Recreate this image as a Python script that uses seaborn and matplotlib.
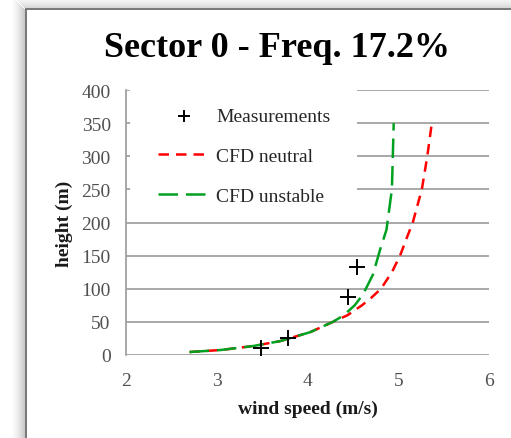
import matplotlib
matplotlib.use("Agg")
import matplotlib.pyplot as plt
from matplotlib.patches import Rectangle
import seaborn as sns
import pandas as pd

# ---- data ----
meas_speed = [3.49, 3.79, 4.45, 4.55]
meas_height = [10, 25, 88, 133]

neutral_height = [4.5, 7.5, 13.5, 21, 34.5, 50, 60, 75, 86, 100, 125, 150, 179, 200, 250, 300, 350]
neutral_speed = [2.70, 3.04, 3.40, 3.70, 4.03, 4.28, 4.44, 4.60, 4.70, 4.81, 4.93, 5.02, 5.10, 5.16, 5.26, 5.32, 5.37]

unstable_height = [4.5, 7.5, 13.5, 21, 34.5, 50, 60, 75, 91, 121, 159, 189, 250, 300, 350]
unstable_speed = [2.70, 3.04, 3.40, 3.70, 4.03, 4.28, 4.40, 4.52, 4.61, 4.72, 4.80, 4.87, 4.93, 4.94, 4.95]

x_ticks = [2, 3, 4, 5, 6]
y_ticks = [0, 50, 100, 150, 200, 250, 300, 350, 400]

title = "Sector 0 - Freq. 17.2%"

sns.set_theme(style="white")
plt.rcParams["font.family"] = ["Liberation Serif", "DejaVu Serif"]

W, H = 511, 439
fig = plt.figure(figsize=(W / 100, H / 100), dpi=100)
fig.patch.set_facecolor("white")

def px_rect(x0, y0, x1, y1, color, alpha=1.0, z=-10):
    fig.add_artist(Rectangle((x0 / W, 1 - y1 / H), (x1 - x0) / W, (y1 - y0) / H,
                             transform=fig.transFigure, facecolor=color, alpha=alpha,
                             lw=0, zorder=z))

# shadow around the chart frame
n = 14
for i in range(n):
    a = 0.34 * (1 - i / n) ** 1.6
    px_rect(25 - i - 1, 10 - i, 25 - i, H, "#606060", a)
    px_rect(25 - i, 10 - i - 1, W, 10 - i, "#606060", a * 0.8)
# frame lines
px_rect(25, 9, 26.5, H, "#7a7a7a", 1.0, z=-5)
px_rect(25, 9, W, 10.5, "#7a7a7a", 1.0, z=-5)

ax_l, ax_r, ax_t, ax_b = 126, 489, 91, 356
ax = fig.add_axes([ax_l / W, 1 - ax_b / H, (ax_r - ax_l) / W, (ax_b - ax_t) / H])
ax.set_facecolor("none")

meas_df = pd.DataFrame({"speed": meas_speed, "height": meas_height})
neu_df = pd.DataFrame({"speed": neutral_speed, "height": neutral_height})
uns_df = pd.DataFrame({"speed": unstable_speed, "height": unstable_height})

sns.scatterplot(data=meas_df, x="speed", y="height", marker="+", s=120,
                color="black", linewidth=1.4, ax=ax, label="Measurements", zorder=5)
sns.lineplot(data=neu_df, x="speed", y="height", sort=False, estimator=None,
             color="#ff0000", linewidth=1.8, linestyle=(0, (4.2, 2.8)),
             ax=ax, label="CFD neutral", zorder=3)
sns.lineplot(data=uns_df, x="speed", y="height", sort=False, estimator=None,
             color="#00a020", linewidth=1.8, linestyle=(0, (7.8, 3.2)),
             ax=ax, label="CFD unstable", zorder=4)

ax.set_xlim(2, 6)
ax.set_ylim(0, 400)
ax.set_xticks(x_ticks)
ax.set_yticks(y_ticks)
ax.set_xticklabels([str(v) for v in x_ticks])
ax.set_yticklabels([str(v) for v in y_ticks])
ax.tick_params(axis="both", length=0, labelsize=14, labelcolor="#505050")
ax.tick_params(axis="y", pad=11)
ax.tick_params(axis="x", pad=12)

ax.set_axisbelow(True)
ax.yaxis.grid(True, color="#9a9a9a", linewidth=1.2)
ax.xaxis.grid(False)
for s in ["top", "right", "bottom"]:
    ax.spines[s].set_visible(False)
ax.spines["left"].set_color("#9a9a9a")
ax.spines["left"].set_linewidth(1.2)

# white legend area covering gridlines
ax.add_patch(Rectangle((0.01, 0.57), 0.626, 0.43, transform=ax.transAxes,
                       facecolor="white", edgecolor="none", zorder=1))

ax.set_xlabel("wind speed (m/s)", fontsize=14, fontweight="bold", color="#1a1a1a", labelpad=8)
ax.set_ylabel("height (m)", fontsize=14, fontweight="bold", color="#1a1a1a", labelpad=6)

leg = ax.legend(loc="upper left", bbox_to_anchor=(0.088, 0.935), frameon=False,
                borderpad=0, borderaxespad=0, handlelength=2.7, handletextpad=0.3,
                labelspacing=1.15, fontsize=14, labelcolor="#262626", markerscale=0.75)

fig.text(277 / W, 1 - 57 / H, title, ha="center", va="baseline",
         fontsize=26, fontweight="bold", color="black")

fig.savefig("out.png", dpi=100)
